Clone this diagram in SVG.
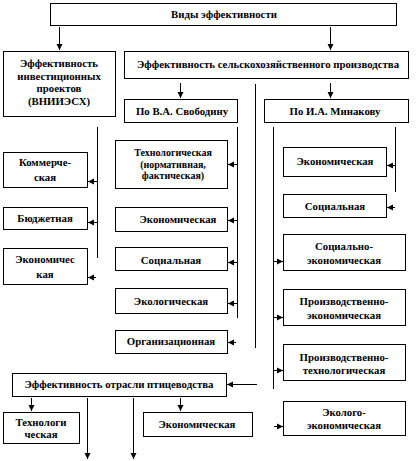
<svg xmlns="http://www.w3.org/2000/svg" width="417" height="461" viewBox="0 0 417 461">
<style>
.b{fill:#fff;stroke:#000;stroke-width:1}
.t{font-family:"Liberation Serif","Times New Roman",serif;font-weight:bold;font-size:10.8px;fill:#000;text-anchor:middle}
.s{font-size:10px}
.c{fill:none;stroke:#000;stroke-width:1}
</style>
<defs>
<marker id="ah" markerUnits="userSpaceOnUse" markerWidth="7" markerHeight="7" refX="6" refY="3.5" orient="auto">
<path d="M0,0.5 L6,3.5 L0,6.5 z" fill="#000"/>
</marker>
</defs>
<rect width="417" height="461" fill="#fff"/>
<g id="connectors">
<line class="c" x1="59.5" y1="27" x2="59.5" y2="50" marker-end="url(#ah)"/>
<line class="c" x1="330.5" y1="27" x2="330.5" y2="50" marker-end="url(#ah)"/>
<line class="c" x1="180.5" y1="83" x2="180.5" y2="98" marker-end="url(#ah)"/>
<line class="c" x1="330.5" y1="83" x2="330.5" y2="98" marker-end="url(#ah)"/>
<line class="c" x1="255.5" y1="84" x2="255.5" y2="348"/>
<line class="c" x1="97.5" y1="127" x2="97.5" y2="258"/>
<line class="c" x1="97" y1="181.5" x2="88" y2="181.5" marker-end="url(#ah)"/>
<line class="c" x1="97" y1="222.5" x2="88" y2="222.5" marker-end="url(#ah)"/>
<line class="c" x1="96" y1="277.5" x2="88" y2="277.5" marker-end="url(#ah)"/>
<line class="c" x1="237.5" y1="127" x2="237.5" y2="318"/>
<line class="c" x1="237" y1="164.5" x2="228" y2="164.5" marker-end="url(#ah)"/>
<line class="c" x1="237" y1="220.5" x2="228" y2="220.5" marker-end="url(#ah)"/>
<line class="c" x1="237" y1="262.5" x2="228" y2="262.5" marker-end="url(#ah)"/>
<line class="c" x1="237" y1="303.5" x2="228" y2="303.5" marker-end="url(#ah)"/>
<line class="c" x1="236" y1="342.5" x2="228" y2="342.5" marker-end="url(#ah)"/>
<line class="c" x1="273.5" y1="127" x2="273.5" y2="389"/>
<line class="c" x1="395.5" y1="127" x2="395.5" y2="192"/>
<line class="c" x1="396" y1="165.5" x2="387" y2="165.5" marker-end="url(#ah)"/>
<line class="c" x1="395" y1="207.5" x2="387" y2="207.5" marker-end="url(#ah)"/>
<line class="c" x1="273" y1="261.5" x2="283" y2="261.5" marker-end="url(#ah)"/>
<line class="c" x1="273" y1="317.5" x2="283" y2="317.5" marker-end="url(#ah)"/>
<line class="c" x1="273" y1="370.5" x2="283" y2="370.5" marker-end="url(#ah)"/>
<line class="c" x1="274" y1="426.5" x2="283" y2="426.5" marker-end="url(#ah)"/>
<line class="c" x1="257" y1="384.5" x2="227" y2="384.5" marker-end="url(#ah)"/>
<line class="c" x1="31.5" y1="398" x2="31.5" y2="411" marker-end="url(#ah)"/>
<line class="c" x1="180.5" y1="398" x2="180.5" y2="411" marker-end="url(#ah)"/>
<line class="c" x1="87.5" y1="398" x2="87.5" y2="459" marker-end="url(#ah)"/>
<line class="c" x1="133.5" y1="398" x2="133.5" y2="459" marker-end="url(#ah)"/>
</g>
<g id="n_top"><rect class="b" x="50.5" y="3.5" width="346" height="22"/><text class="t" x="224" y="18">Виды эффективности</text></g>
<g id="n_invest"><rect class="b" x="3.5" y="51.5" width="112" height="65"/>
<text class="t" x="59" y="67">Эффективность</text><text class="t" x="59" y="80">инвестиционных</text><text class="t" x="59" y="92">проектов</text><text class="t" x="59" y="105">(ВНИИЭСХ)</text></g>
<g id="n_agri"><rect class="b" x="124.5" y="51.5" width="284" height="27"/><text class="t" x="268" y="68">Эффективность сельскохозяйственного производства</text></g>
<g id="n_svob"><rect class="b" x="124.5" y="99.5" width="113" height="23"/><text class="t" x="182" y="115">По В.А. Свободину</text></g>
<g id="n_min"><rect class="b" x="264.5" y="99.5" width="144" height="23"/><text class="t" x="335" y="115">По И.А. Минакову</text></g>
<g id="n_comm"><rect class="b" x="3.5" y="152.5" width="84" height="35"/><text class="t" x="45" y="166">Коммерче-</text><text class="t" x="45" y="181">ская</text></g>
<g id="n_budg"><rect class="b" x="3.5" y="207.5" width="84" height="22"/><text class="t" x="45" y="222">Бюджетная</text></g>
<g id="n_econ1"><rect class="b" x="3.5" y="248.5" width="84" height="36"/><text class="t" x="45" y="263">Экономичес</text><text class="t" x="45" y="278">кая</text></g>
<g id="n_tech1"><rect class="b" x="115.5" y="140.5" width="112" height="48"/><text class="t s" x="173" y="156">Технологическая</text><text class="t s" x="173" y="167.5">(нормативная,</text><text class="t s" x="173" y="179">фактическая)</text></g>
<g id="n_econ2"><rect class="b" x="115.5" y="207.5" width="112" height="24"/><text class="t" x="178" y="223">Экономическая</text></g>
<g id="n_soc1"><rect class="b" x="115.5" y="247.5" width="112" height="23"/><text class="t" x="171" y="264">Социальная</text></g>
<g id="n_ecol1"><rect class="b" x="115.5" y="288.5" width="112" height="25"/><text class="t" x="171" y="305">Экологическая</text></g>
<g id="n_org"><rect class="b" x="115.5" y="330.5" width="112" height="23"/><text class="t" x="171" y="345">Организационная</text></g>
<g id="n_econ3"><rect class="b" x="283.5" y="147.5" width="103" height="29"/><text class="t" x="335" y="165">Экономическая</text></g>
<g id="n_soc2"><rect class="b" x="283.5" y="194.5" width="103" height="23"/><text class="t" x="335" y="210">Социальная</text></g>
<g id="n_soceco"><rect class="b" x="283.5" y="234.5" width="122" height="36"/><text class="t" x="344" y="250">Социально-</text><text class="t" x="344" y="264">экономическая</text></g>
<g id="n_prodeco"><rect class="b" x="283.5" y="289.5" width="122" height="36"/><text class="t" x="344" y="305">Производственно-</text><text class="t" x="344" y="319">экономическая</text></g>
<g id="n_prodtech"><rect class="b" x="283.5" y="344.5" width="122" height="36"/><text class="t" x="344" y="361">Производственно-</text><text class="t" x="344" y="374">технологическая</text></g>
<g id="n_ecoeco"><rect class="b" x="283.5" y="401.5" width="122" height="34"/><text class="t" x="344" y="416">Эколого-</text><text class="t" x="344" y="429">экономическая</text></g>
<g id="n_poultry"><rect class="b" x="12.5" y="373.5" width="214" height="23"/><text class="t" x="119" y="388">Эффективность отрасли птицеводства</text></g>
<g id="n_tech2"><rect class="b" x="3.5" y="412.5" width="76" height="31"/><text class="t" x="41" y="426">Технологи</text><text class="t" x="41" y="438">ческая</text></g>
<g id="n_econ4"><rect class="b" x="143.5" y="412.5" width="109" height="24"/><text class="t" x="197" y="428">Экономическая</text></g>
</svg>
